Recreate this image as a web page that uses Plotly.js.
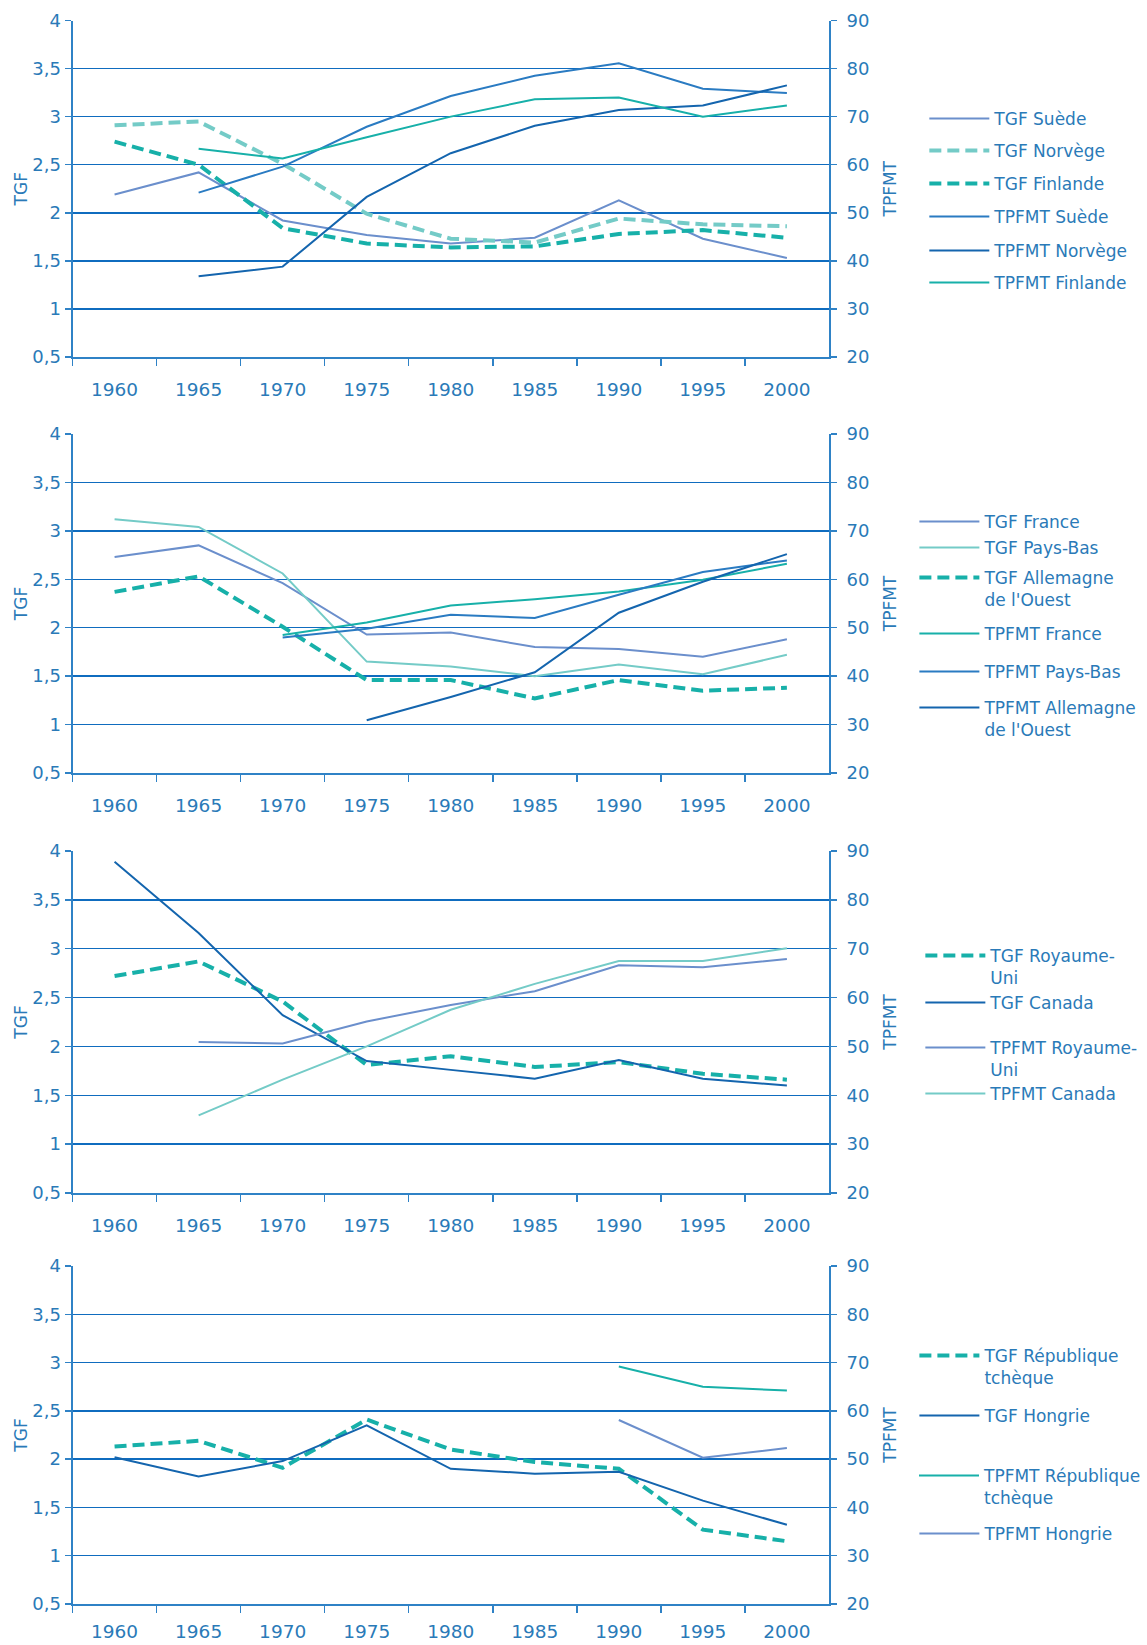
<!DOCTYPE html>
<html>
<head>
<meta charset="utf-8">
<script src="https://cdn.plot.ly/plotly-3.0.1.min.js"></script>
<style>html,body{margin:0;padding:0;background:#fff;}#chart{width:1147px;height:1645px;}</style>
</head>
<body>
<div id="chart"></div>
<script>
// ---- Data ----
const years = ['1960','1965','1970','1975','1980','1985','1990','1995','2000'];
const years1965 = ['1965','1970','1975','1980','1985','1990','1995','2000'];
const years1970 = ['1970','1975','1980','1985','1990','1995','2000'];
const years1975 = ['1975','1980','1985','1990','1995','2000'];
const years1990 = ['1990','1995','2000'];

// Panel 1 : Suède, Norvège, Finlande
const tgfSuede     = [2.19, 2.42, 1.92, 1.77, 1.68, 1.74, 2.13, 1.73, 1.53];
const tgfNorvege   = [2.91, 2.95, 2.51, 1.99, 1.73, 1.69, 1.94, 1.88, 1.86];
const tgfFinlande  = [2.74, 2.50, 1.84, 1.68, 1.64, 1.65, 1.78, 1.82, 1.74];
const tpfmtSuede    = [54.2, 59.6, 67.9, 74.3, 78.5, 81.1, 75.8, 74.9];
const tpfmtNorvege  = [36.8, 38.8, 53.3, 62.4, 68.1, 71.4, 72.3, 76.5];
const tpfmtFinlande = [63.3, 61.3, 65.7, 70.0, 73.6, 74.0, 70.0, 72.3];

// Panel 2 : France, Pays-Bas, Allemagne de l'Ouest
const tgfFrance     = [2.73, 2.85, 2.46, 1.93, 1.95, 1.80, 1.78, 1.70, 1.88];
const tgfPaysBas    = [3.12, 3.04, 2.56, 1.65, 1.60, 1.50, 1.62, 1.52, 1.72];
const tgfAllemagne  = [2.37, 2.53, 2.01, 1.46, 1.46, 1.27, 1.46, 1.35, 1.38];
const tpfmtFrance    = [48.5, 51.1, 54.6, 55.9, 57.5, 59.9, 63.2];
const tpfmtPaysBas   = [48.0, 49.8, 52.7, 52.0, 56.8, 61.5, 63.9];
const tpfmtAllemagne = [30.9, 35.7, 40.8, 53.1, 59.5, 65.2];

// Panel 3 : Royaume-Uni, Canada
const tgfRoyaumeUni   = [2.72, 2.87, 2.46, 1.81, 1.90, 1.79, 1.84, 1.72, 1.66];
const tgfCanada       = [3.89, 3.16, 2.32, 1.85, 1.76, 1.67, 1.86, 1.67, 1.60];
const tpfmtRoyaumeUni = [50.9, 50.6, 55.1, 58.5, 61.3, 66.6, 66.2, 67.9];
const tpfmtCanada     = [35.9, 43.2, 50.0, 57.5, 62.8, 67.5, 67.5, 70.1];

// Panel 4 : République tchèque, Hongrie
const tgfTcheque   = [2.13, 2.19, 1.91, 2.41, 2.10, 1.97, 1.90, 1.27, 1.15];
const tgfHongrie   = [2.02, 1.82, 1.98, 2.35, 1.90, 1.85, 1.87, 1.57, 1.32];
const tpfmtTcheque = [69.2, 65.0, 64.2];
const tpfmtHongrie = [58.1, 50.3, 52.3];

// ---- Styles ----
const W = 1147, H = 1645;
const TXT = '#2a7ab8';
const GRID = '#0f6cbf';
const AXIS = '#2f82c6';
const COL = {lav:'#6b8fcc', lteal:'#74cbc7', teal:'#17b0a9', blue:'#2a7bc2', dblue:'#1465ae'};
const FONT = 'DejaVu Sans, sans-serif';

// panel geometry in pixels (top, bottom)
const panels = [
  {top: 20.5, bottom: 357, standoff: 15},
  {top: 434, bottom: 773, standoff: 15},
  {top: 851, bottom: 1193, standoff: 15},
  {top: 1266, bottom: 1604, standoff: 10}
];
const xLeft = 73, xRight = 834;

const traces = [];
let legendCount = 0;
const layout = {
  width: W, height: H,
  margin: {l:0, r:0, t:0, b:0},
  paper_bgcolor: '#ffffff', plot_bgcolor: '#ffffff',
  separators: ', ',
  showlegend: true,
  font: {family: FONT, color: TXT, size: 17}
};

function addTrace(p, name, x, y, side, color, dashed, legendPos) {
  legendCount++;
  const lg = legendCount === 1 ? 'legend' : 'legend' + legendCount;
  const xa = p === 0 ? 'x' : 'x' + (p + 1);
  const ya = side === 'left' ? (p === 0 ? 'y' : 'y' + (2 * p + 1)) : 'y' + (2 * p + 2);
  traces.push({
    type: 'scatter', mode: 'lines', name: name, x: x, y: y,
    xaxis: xa, yaxis: ya, legend: lg, showlegend: true,
    line: {color: color, width: dashed ? 4 : 2, dash: dashed ? '12px,6px' : 'solid'},
    hoverinfo: 'skip'
  });
  layout[lg] = {
    x: (legendPos[0] - 3) / W, y: 1 - (legendPos[1] - 18) / H,
    xanchor: 'left', yanchor: 'top',
    bgcolor: 'rgba(0,0,0,0)', borderwidth: 0,
    font: {family: FONT, size: 17, color: TXT},
    itemwidth: 60, valign: 'top', itemclick: false, itemdoubleclick: false
  };
}

// Panel 1
addTrace(0, 'TGF Suède', years, tgfSuede, 'left', COL.lav, false, [933, 119]);
addTrace(0, 'TGF Norvège', years, tgfNorvege, 'left', COL.lteal, true, [933, 151]);
addTrace(0, 'TGF Finlande', years, tgfFinlande, 'left', COL.teal, true, [933, 184]);
addTrace(0, 'TPFMT Suède', years1965, tpfmtSuede, 'right', COL.blue, false, [933, 217]);
addTrace(0, 'TPFMT Norvège', years1965, tpfmtNorvege, 'right', COL.dblue, false, [933, 251]);
addTrace(0, 'TPFMT Finlande', years1965, tpfmtFinlande, 'right', COL.teal, false, [933, 283]);
// Panel 2
addTrace(1, 'TGF France', years, tgfFrance, 'left', COL.lav, false, [923, 522]);
addTrace(1, 'TGF Pays-Bas', years, tgfPaysBas, 'left', COL.lteal, false, [923, 548]);
addTrace(1, "TGF Allemagne<br>de l'Ouest", years, tgfAllemagne, 'left', COL.teal, true, [923, 578]);
addTrace(1, 'TPFMT France', years1970, tpfmtFrance, 'right', COL.teal, false, [923, 634]);
addTrace(1, 'TPFMT Pays-Bas', years1970, tpfmtPaysBas, 'right', COL.blue, false, [923, 672]);
addTrace(1, "TPFMT Allemagne<br>de l'Ouest", years1975, tpfmtAllemagne, 'right', COL.dblue, false, [923, 708]);
// Panel 3
addTrace(2, 'TGF Royaume-<br>Uni', years, tgfRoyaumeUni, 'left', COL.teal, true, [929, 956]);
addTrace(2, 'TGF Canada', years, tgfCanada, 'left', COL.dblue, false, [929, 1003]);
addTrace(2, 'TPFMT Royaume-<br>Uni', years1965, tpfmtRoyaumeUni, 'right', COL.lav, false, [929, 1048]);
addTrace(2, 'TPFMT Canada', years1965, tpfmtCanada, 'right', COL.lteal, false, [929, 1094]);
// Panel 4
addTrace(3, 'TGF République<br>tchèque', years, tgfTcheque, 'left', COL.teal, true, [923, 1356]);
addTrace(3, 'TGF Hongrie', years, tgfHongrie, 'left', COL.dblue, false, [923, 1416]);
addTrace(3, 'TPFMT République<br>tchèque', years1990, tpfmtTcheque, 'right', COL.teal, false, [923, 1476]);
addTrace(3, 'TPFMT Hongrie', years1990, tpfmtHongrie, 'right', COL.lav, false, [923, 1534]);

// Axes
panels.forEach((pn, i) => {
  const xk = i === 0 ? 'xaxis' : 'xaxis' + (i + 1);
  const yl = i === 0 ? 'yaxis' : 'yaxis' + (2 * i + 1);
  const yr = 'yaxis' + (2 * i + 2);
  const xid = i === 0 ? 'x' : 'x' + (i + 1);
  const ylid = i === 0 ? 'y' : 'y' + (2 * i + 1);
  const dom = [1 - pn.bottom / H, 1 - pn.top / H];
  layout[xk] = {
    domain: [xLeft / W, xRight / W], anchor: ylid,
    type: 'category', categoryorder: 'array', categoryarray: years,
    range: [-0.5, 8.5], fixedrange: true,
    tickson: 'boundaries', ticks: 'outside', ticklen: 7, tickwidth: 1.5, tickcolor: AXIS,
    showline: true, linecolor: AXIS, linewidth: 2, showgrid: false, zeroline: false,
    tickfont: {family: FONT, size: 18.5, color: TXT}, ticklabelstandoff: pn.standoff
  };
  layout[yl] = {
    domain: dom, anchor: xid, range: [0.5, 4], tick0: 0.5, dtick: 0.5, fixedrange: true,
    showline: true, linecolor: AXIS, linewidth: 2,
    ticks: 'outside', ticklen: 6, tickwidth: 1.5, tickcolor: AXIS,
    showgrid: true, gridcolor: GRID, gridwidth: 1.5, zeroline: false,
    tickfont: {family: FONT, size: 18, color: TXT},
    title: {text: 'TGF', font: {family: FONT, size: 17, color: TXT}, standoff: 0}
  };
  layout[yr] = {
    domain: dom, anchor: xid, overlaying: ylid, side: 'right',
    range: [20, 90], tick0: 20, dtick: 10, fixedrange: true,
    showline: true, linecolor: AXIS, linewidth: 2,
    ticks: 'outside', ticklen: 6, tickwidth: 1.5, tickcolor: AXIS,
    showgrid: false, zeroline: false, ticklabelstandoff: 6,
    tickfont: {family: FONT, size: 18, color: TXT},
    title: {text: 'TPFMT', font: {family: FONT, size: 17, color: TXT}, standoff: 16}
  };
});

Plotly.newPlot('chart', traces, layout, {displayModeBar: false, staticPlot: true});
</script>
</body>
</html>
